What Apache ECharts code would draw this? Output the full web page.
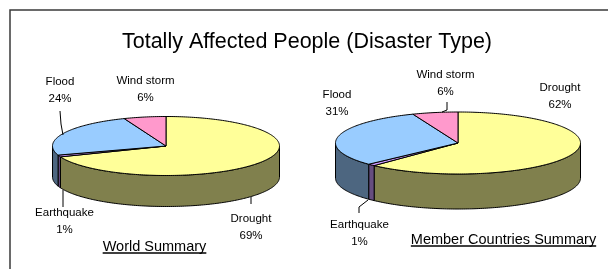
<!DOCTYPE html>
<html>
<head>
<meta charset="utf-8">
<script src="https://cdn.jsdelivr.net/npm/echarts@6/dist/echarts.min.js"></script>
<style>
html,body{margin:0;padding:0;background:#fff;}
#chart{width:608px;height:269px;}
</style>
</head>
<body>
<div id="chart"></div>
<script>
// ---- data ----
const categories = ['Drought', 'Earthquake', 'Flood', 'Wind storm'];
const worldValues = [69, 1, 24, 6];
const memberValues = [62, 1, 31, 6];
const chartTitle = 'Totally Affected People (Disaster Type)';
const pieTitles = ['World Summary', 'Member Countries Summary'];

// ---- styles / layout ----
const FONT = "'Liberation Sans', Arial, sans-serif";
const topColors = ['#FFFF99', '#CC99FF', '#99CCFF', '#FF99CC'];
const sideColors = ['#80804D', '#664D80', '#4D6680', '#804D66'];
const pieLayouts = [
  {
    cx: 166, cy: 146, rx: 113.5, ry: 29.5, depth: 31,
    labels: [[251, 227.5], [64.5, 221.5], [60, 90.5], [145.5, 89.5]],
    leaders: [
      [[251, 197], [251, 204]],
      [[63, 190], [63, 207]],
      [[60, 111], [61, 124], [63, 135]],
      null
    ],
    caption: [154.5, 247]
  },
  {
    cx: 458, cy: 143, rx: 122.5, ry: 31, depth: 35,
    labels: [[560, 96], [359.5, 233.5], [337, 103.5], [445.5, 83]],
    leaders: [
      null,
      [[359, 213], [359, 207], [368, 200]],
      null,
      [[447, 102], [447, 110], [442, 112]]
    ],
    caption: [503.5, 240]
  }
];

function ellipsePts(L, a, b, dy) {
  const pts = [];
  const n = Math.max(2, Math.ceil(Math.abs(b - a) / (Math.PI / 180)));
  for (let i = 0; i <= n; i++) {
    const t = a + (b - a) * i / n;
    pts.push([L.cx + L.rx * Math.cos(t), L.cy + L.ry * Math.sin(t) + dy]);
  }
  return pts;
}

function makeRender(values, L) {
  const total = values.reduce((s, v) => s + v, 0);
  return function (params, api) {
    const i = params.dataIndex;
    const v = api.value(0);
    let before = 0;
    for (let k = 0; k < i; k++) before += values[k];
    const p1 = -Math.PI / 2 + 2 * Math.PI * before / total;
    const p2 = -Math.PI / 2 + 2 * Math.PI * (before + v) / total;
    const children = [];
    // front side
    const a = Math.max(p1, 0), b = Math.min(p2, Math.PI);
    if (a < b) {
      const pts = ellipsePts(L, a, b, 0).concat(ellipsePts(L, b, a, L.depth));
      children.push({
        type: 'polygon', z2: 1,
        shape: { points: pts },
        style: { fill: sideColors[i], stroke: '#000', lineWidth: 1 }
      });
    }
    // top face
    const topPts = [[L.cx, L.cy]].concat(ellipsePts(L, p1, p2, 0));
    children.push({
      type: 'polygon', z2: 5,
      shape: { points: topPts },
      style: { fill: topColors[i], stroke: '#000', lineWidth: 1 }
    });
    // label
    const pct = Math.round(v / total * 100) + '%';
    const lp = L.labels[i];
    children.push({
      type: 'text', z2: 10, x: lp[0], y: lp[1],
      style: {
        text: categories[i] + '\n' + pct,
        fill: '#000', font: '11.5px ' + FONT, lineHeight: 17,
        align: 'center', verticalAlign: 'middle',
        textAlign: 'center', textVerticalAlign: 'middle'
      }
    });
    if (L.leaders[i]) {
      children.push({
        type: 'polyline', z2: 10,
        shape: { points: L.leaders[i] },
        style: { stroke: '#000', lineWidth: 1, fill: null }
      });
    }
    return { type: 'group', children: children };
  };
}

function textWidth(txt, font) {
  const c = document.createElement('canvas').getContext('2d');
  c.font = font;
  return c.measureText(txt).width;
}

const capFont = '14.5px ' + FONT;
const graphics = [
  {
    type: 'rect', z: -10,
    shape: { x: 10, y: 10, width: 700, height: 400 },
    style: { fill: 'none', stroke: '#3a3a3a', lineWidth: 1.5 }
  },
  {
    type: 'text', x: 307, y: 42,
    style: {
      text: chartTitle, fill: '#000', font: '21.5px ' + FONT,
      align: 'center', verticalAlign: 'middle',
      textAlign: 'center', textVerticalAlign: 'middle'
    }
  }
];
pieLayouts.forEach((L, k) => {
  const w = textWidth(pieTitles[k], capFont);
  graphics.push({
    type: 'text', x: L.caption[0], y: L.caption[1],
    style: {
      text: pieTitles[k], fill: '#000', font: capFont,
      align: 'center', verticalAlign: 'middle',
      textAlign: 'center', textVerticalAlign: 'middle'
    }
  });
  graphics.push({
    type: 'line',
    shape: { x1: L.caption[0] - w / 2, y1: L.caption[1] + 6, x2: L.caption[0] + w / 2, y2: L.caption[1] + 6 },
    style: { stroke: '#000', lineWidth: 1.5 }
  });
});

const chart = echarts.init(document.getElementById('chart'), null, { renderer: 'canvas' });
chart.setOption({
  animation: false,
  backgroundColor: '#fff',
  graphic: graphics,
  series: [
    {
      type: 'custom', coordinateSystem: 'none',
      data: worldValues.map(v => [v]),
      renderItem: makeRender(worldValues, pieLayouts[0])
    },
    {
      type: 'custom', coordinateSystem: 'none',
      data: memberValues.map(v => [v]),
      renderItem: makeRender(memberValues, pieLayouts[1])
    }
  ]
});
</script>
</body>
</html>
